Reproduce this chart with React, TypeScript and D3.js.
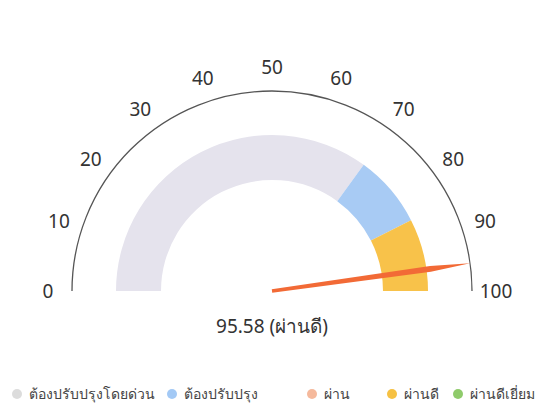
import React from "react";
import * as d3 from "d3";

const bandLabels = ["ต้องปรับปรุงโดยด่วน", "ต้องปรับปรุง", "ผ่านดี"];
const bandStarts = [0, 70, 85];
const bandEnds = [70, 85, 100];
const bandColors = ["#e5e3ed", "#a8cbf4", "#f8c24a"];

const tickValues = [0, 10, 20, 30, 40, 50, 60, 70, 80, 90, 100];
const gaugeValue = 95.58;
const gaugeLabel = "95.58 (ผ่านดี)";

const legendLabels = ["ต้องปรับปรุงโดยด่วน", "ต้องปรับปรุง", "ผ่าน", "ผ่านดี", "ผ่านดีเยี่ยม"];
const legendColors = ["#dcdcdc", "#a3c9f5", "#f5b99c", "#f6c143", "#8fcb6b"];

const W = 539;
const H = 410;
const cx = 272;
const cy = 291;
const axisR = 200;
const labelR = 224;
const bandInner = 111;
const bandOuter = 156;
const font = "'Noto Sans', 'DejaVu Sans', sans-serif";

export default function App() {
  const angle = d3.scaleLinear().domain([0, 100]).range([-Math.PI / 2, Math.PI / 2]);
  const arcGen = d3.arc<any>().innerRadius(bandInner).outerRadius(bandOuter);

  const axisPath = d3.path();
  axisPath.moveTo(-axisR, 0);
  axisPath.arc(0, 0, axisR, Math.PI, 2 * Math.PI);

  const a = angle(gaugeValue);
  const ux = Math.sin(a), uy = -Math.cos(a);
  const nx = Math.cos(a), ny = Math.sin(a);
  const needlePts: [number, number][] = [
    [nx * 1.8, ny * 1.8],
    [ux * axisR * 0.8 + nx * 3, uy * axisR * 0.8 + ny * 3],
    [ux * axisR, uy * axisR],
    [ux * axisR * 0.8 - nx * 3, uy * axisR * 0.8 - ny * 3],
    [-nx * 1.8, -ny * 1.8],
  ];
  const needle = d3.line().curve(d3.curveLinearClosed)(needlePts) || "";

  const legendX = [17, 172, 312, 392, 458];

  return (
    <svg width={W} height={H} style={{ position: "absolute", left: 0, top: 0, background: "#fff" }} fontFamily={font}>
      <g transform={`translate(${cx},${cy})`}>
        {bandStarts.map((s, i) => (
          <path
            key={bandLabels[i]}
            d={arcGen({ startAngle: angle(s), endAngle: angle(bandEnds[i]) }) || ""}
            fill={bandColors[i]}
          />
        ))}
        <path d={axisPath.toString()} fill="none" stroke="#555" strokeWidth={1.3} />
        {tickValues.map((v) => {
          const t = angle(v);
          return (
            <text
              key={v}
              x={labelR * Math.sin(t)}
              y={-labelR * Math.cos(t)}
              dy="0.35em"
              textAnchor="middle"
              fontSize={19}
              fill="#333"
            >
              {v}
            </text>
          );
        })}
        <path d={needle} fill="#f26a36" />
        <text x={0} y={35} dy="0.35em" textAnchor="middle" fontSize={19} fill="#333">
          {gaugeLabel}
        </text>
      </g>
      <g>
        {legendLabels.map((l, i) => (
          <g key={l} transform={`translate(${legendX[i]},394)`}>
            <circle r={5} fill={legendColors[i]} />
            <text x={12} dy="0.35em" fontSize={14} fill="#444">
              {l}
            </text>
          </g>
        ))}
      </g>
    </svg>
  );
}
